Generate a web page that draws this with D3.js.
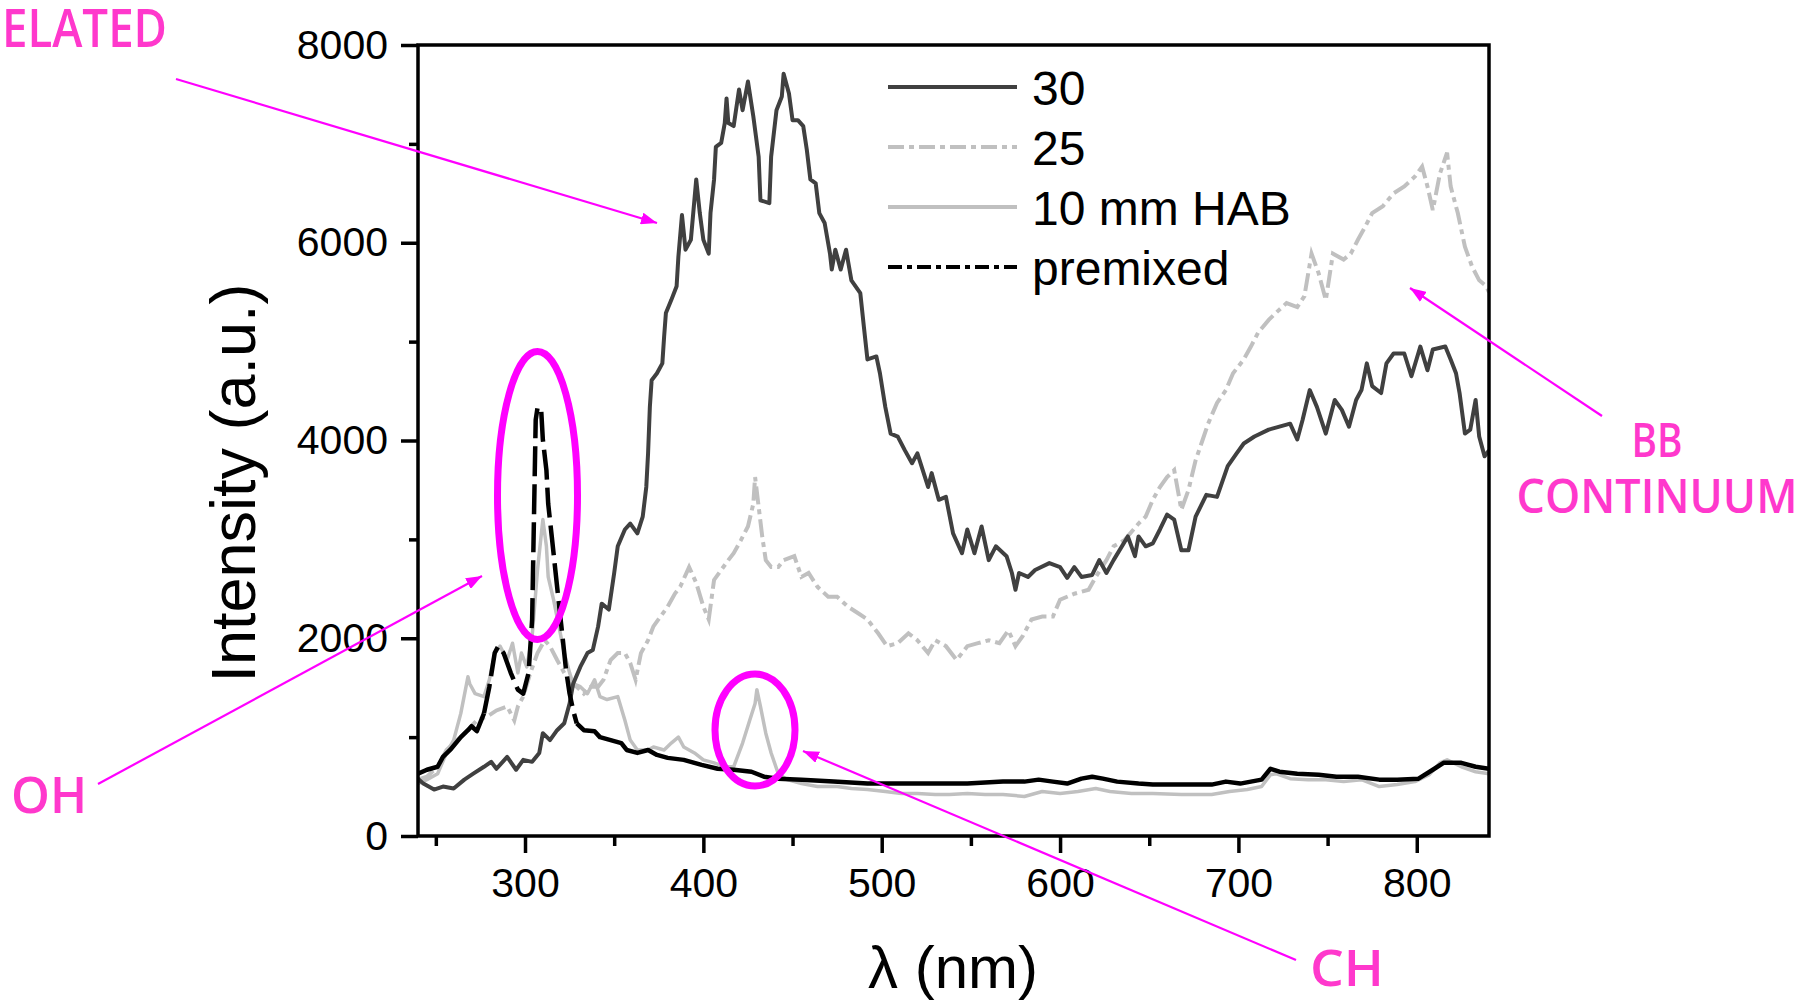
<!DOCTYPE html>
<html>
<head>
<meta charset="utf-8">
<script src="https://cdn.jsdelivr.net/npm/d3@7"></script>
<style>
  html, body { margin: 0; padding: 0; background: #ffffff; }
  svg { display: block; }
</style>
</head>
<body>
<svg id="chart" width="1803" height="1001"></svg>
<script>
// ---------------- DATA ----------------
const seriesNames = ["30", "25", "10 mm HAB", "premixed"];

const wl30 = [240,243,249,254,260,266,271,277,281,284,290,295,299,304,308,310,314,318,322,325,327,331,335,338,341,343,347,350,352,356,359,363,366,368,369,370,371,374,377,378,379,382,385,386,388,390,393,396,398,400,403,404,406,407,410,412,413,414,417,420,422,425,428,431,432,437,438,441,444,445,448,450,453,456,458,460,463,465,468,471,472,474,477,480,483,488,490,492,497,499,502,505,509,513,517,520,526,528,532,536,540,545,548,552,556,560,564,570,573,575,577,582,586,594,600,604,608,612,618,622,626,630,638,642,644,648,652,656,660,664,668,672,676,682,688,694,699,703,709,717,723,729,733,736,740,744,749,754,758,762,766,769,772,775,780,783,787,793,797,802,806,809,816,819,822,824,827,830,833,835,838,840.5];
const int30 = [580,530,470,500,480,570,630,700,750,680,800,670,770,750,840,1040,970,1070,1140,1340,1540,1710,1850,1880,2120,2350,2290,2660,2930,3100,3160,3060,3230,3530,3870,4340,4610,4680,4780,5050,5290,5420,5560,5860,6280,5930,6030,6640,6300,6030,5890,6300,6640,6970,7010,7210,7460,7210,7180,7550,7340,7630,7280,6870,6430,6400,6870,7340,7480,7710,7510,7240,7240,7180,6940,6640,6600,6300,6200,5890,5730,5930,5730,5930,5620,5490,5150,4820,4850,4680,4340,4070,4040,3900,3770,3870,3530,3670,3400,3430,3060,2860,3100,2860,3130,2790,2930,2830,2660,2490,2660,2620,2690,2760,2720,2610,2720,2620,2640,2790,2660,2790,3030,2830,3030,2930,2960,3100,3250,3200,2890,2890,3230,3450,3430,3740,3870,3970,4040,4110,4140,4170,4010,4210,4510,4340,4070,4410,4310,4140,4410,4510,4780,4550,4480,4780,4880,4880,4650,4950,4710,4920,4950,4820,4680,4480,4070,4110,4410,4040,3840,3900];

const wl25 = [240,245,251,256,262,268,273,279,284,290,294,296,299,303,307,311,314,318,322,326,329,333,337,341,344,348,352,356,359,362,365,369,372,376,380,384,387,392,396,400,403,406,410,414,417,421,425,428,429,431,433,435,438,442,445,451,455,459,464,470,475,481,487,492,498,503,509,515,520,526,530,536,542,548,554,560,566,571,575,579,584,590,596,600,608,616,620,626,630,636,644,648,652,656,660,664,668,672,676,680,683,688,693,697,703,707,711,717,721,727,733,737,741,745,749,753,759,763,767,771,775,781,787,793,799,803,806,809,813,817,819,823,827,831,835,839,840.5];
const int25 = [570,600,700,870,970,1070,1170,1210,1270,1310,1170,1310,1410,1650,1850,1980,1920,1780,1650,1540,1510,1440,1510,1510,1580,1780,1850,1850,1750,1580,1850,1980,2120,2220,2320,2450,2520,2720,2560,2320,2190,2590,2690,2790,2860,2990,3130,3360,3630,3330,3030,2790,2720,2720,2790,2830,2620,2660,2520,2420,2420,2320,2250,2190,2050,1920,1950,2050,1980,1850,1980,1920,1780,1920,1950,1980,1950,2080,1920,2020,2190,2220,2220,2390,2450,2490,2620,2790,2930,2990,3160,3230,3400,3530,3630,3700,3300,3500,3800,4010,4170,4380,4510,4680,4820,4950,5090,5220,5290,5390,5350,5460,5890,5690,5420,5890,5830,5890,6030,6160,6300,6370,6500,6570,6670,6770,6570,6330,6700,6910,6570,6300,5960,5760,5620,5560,5500];

const wl10 = [240,245,251,256,260,264,268,269,272,277,280,283,286,290,293,296,298,301,304,307,310,312,313,316,319,322,325,327,331,335,339,342,346,352,356,359,363,369,372,378,382,386,389,395,400,406,412,417,422,426,429,430,432,435,438,442,447,455,464,475,483,492,502,511,520,530,538,548,558,568,580,590,600,610,620,628,640,652,668,685,695,705,713,718,721,729,739,749,759,769,779,789,799,807,813,817,825,833,840.5];
const int10 = [530,570,630,840,970,1240,1610,1540,1440,1410,1580,1850,1920,1780,1950,1650,1850,1710,2020,2690,3200,2930,2620,2390,2120,1850,1650,1540,1510,1440,1580,1410,1380,1410,1170,970,870,870,900,870,940,1000,900,840,770,740,700,700,940,1170,1340,1480,1310,1040,840,630,570,530,500,500,480,470,450,430,430,420,420,430,420,420,400,450,430,450,480,450,430,430,420,420,450,470,500,620,630,580,570,570,550,570,500,520,550,620,740,770,700,650,630];

const wlPre = [240,245,251,254,258,264,268,270,273,277,280,283,285,288,292,296,299,302,304,305,306,307,309,310,312,313,315,317,319,321,323,325,327,329,333,339,342,348,354,357,363,369,374,380,389,399,408,417,427,434,442,455,473,492,511,531,548,568,580,588,596,604,612,618,624,632,644,652,668,685,693,701,713,718,723,733,745,755,767,779,789,801,809,815,825,833,840.5];
const intPre = [630,670,700,800,870,1000,1070,1110,1060,1240,1510,1850,1920,1850,1650,1480,1440,1650,2190,3200,4210,4330,4330,4010,3700,3360,3030,2690,2350,2020,1680,1440,1270,1140,1070,1060,1000,970,940,870,840,870,820,790,770,720,680,670,650,600,580,570,550,530,530,530,530,550,550,570,550,530,580,600,580,550,530,520,520,520,550,530,570,680,650,630,620,600,600,570,570,580,670,740,740,700,680];

const xTickMajor = [300, 400, 500, 600, 700, 800];
const xTickMinor = [250, 350, 450, 550, 650, 750];
const yTickMajor = [0, 2000, 4000, 6000, 8000];
const yTickMinor = [1000, 3000, 5000, 7000];

const xLabel = "λ (nm)";
const yLabel = "Intensity (a.u.)";
const annoTexts = ["ELATED", "OH", "CH", "BB", "CONTINUUM"];

// ---------------- DRAWING ----------------
const svg = d3.select("#chart");
const L = 418, R = 1489, T = 45, B = 836;
const x = d3.scaleLinear().domain([240, 840.5]).range([L, R]);
const y = d3.scaleLinear().domain([0, 8000]).range([B, T]);

const FONT = "'Liberation Sans', Arial, Helvetica, sans-serif";
const MAG = "#ff00ff";
const MAGTXT = "#ff38cc";

const defs = svg.append("defs");
defs.append("clipPath").attr("id", "plotclip")
  .append("rect").attr("x", L).attr("y", T).attr("width", R - L).attr("height", B - T);

const line = d3.line().x(d => x(d[0])).y(d => y(d[1]));
const plot = svg.append("g").attr("clip-path", "url(#plotclip)");

const d10 = d3.zip(wl10, int10);
const d25 = d3.zip(wl25, int25);
const d30 = d3.zip(wl30, int30);
const dPre = d3.zip(wlPre, intPre);

plot.append("path").datum(d10).attr("d", line)
  .attr("fill", "none").attr("stroke", "#c0c0c0").attr("stroke-width", 3.5).attr("stroke-linejoin", "round");
plot.append("path").datum(d25).attr("d", line)
  .attr("fill", "none").attr("stroke", "#c0c0c0").attr("stroke-width", 4)
  .attr("stroke-dasharray", "18,5,5,5");
plot.append("path").datum(d30).attr("d", line)
  .attr("fill", "none").attr("stroke", "#404040").attr("stroke-width", 4).attr("stroke-linejoin", "round");

// premixed: dash pattern visible on the steep OH-band part, looks solid elsewhere
const i0 = dPre.findIndex(d => d[0] >= 275);
let i1 = 0; dPre.forEach((d, i) => { if (d[0] <= 330) i1 = i; });
const preStyle = (p) => p.attr("fill", "none").attr("stroke", "#000").attr("stroke-width", 4.5).attr("stroke-linejoin", "round");
plot.append("path").datum(dPre.slice(0, i0 + 1)).attr("d", line).call(preStyle);
plot.append("path").datum(dPre.slice(i0, i1 + 1)).attr("d", line).call(preStyle).attr("stroke-dasharray", "30,8");
plot.append("path").datum(dPre.slice(i1)).attr("d", line).call(preStyle);

// frame
svg.append("rect").attr("x", L).attr("y", T).attr("width", R - L).attr("height", B - T)
  .attr("fill", "none").attr("stroke", "#000").attr("stroke-width", 3.5);

// axes
function styleAxis(g) {
  g.select(".domain").remove();
  g.selectAll(".tick line").attr("stroke", "#000").attr("stroke-width", 3.5);
  g.selectAll("text").attr("font-family", FONT).attr("font-size", 41).attr("fill", "#000");
}
const xMaj = svg.append("g").attr("transform", `translate(0,${B})`)
  .call(d3.axisBottom(x).tickValues(xTickMajor).tickSize(17).tickPadding(15).tickFormat(d3.format("d")));
styleAxis(xMaj);
const xMin = svg.append("g").attr("transform", `translate(0,${B})`)
  .call(d3.axisBottom(x).tickValues(xTickMinor).tickSize(10).tickFormat(""));
styleAxis(xMin);
const yMaj = svg.append("g").attr("transform", `translate(${L},0)`)
  .call(d3.axisLeft(y).tickValues(yTickMajor).tickSize(17).tickPadding(13).tickFormat(d3.format("d")));
styleAxis(yMaj);
const yMin = svg.append("g").attr("transform", `translate(${L},0)`)
  .call(d3.axisLeft(y).tickValues(yTickMinor).tickSize(9).tickFormat(""));
styleAxis(yMin);

// axis titles
svg.append("text").attr("x", 953).attr("y", 988).attr("text-anchor", "middle")
  .attr("font-family", FONT).attr("font-size", 60).text(xLabel);
svg.append("text").attr("transform", "translate(255,483) rotate(-90)").attr("text-anchor", "middle")
  .attr("font-family", FONT).attr("font-size", 63).text(yLabel);

// legend
const legend = [
  { name: seriesNames[0], color: "#404040", dash: null, w: 4 },
  { name: seriesNames[1], color: "#c0c0c0", dash: "16,5,5,5", w: 4 },
  { name: seriesNames[2], color: "#c0c0c0", dash: null, w: 4 },
  { name: seriesNames[3], color: "#000000", dash: "14,5,5,5", w: 4 }
];
const lg = svg.append("g");
legend.forEach((s, i) => {
  const base = 105 + i * 60;
  const ly = base - 18;
  const ln = lg.append("line").attr("x1", 888).attr("x2", 1017).attr("y1", ly).attr("y2", ly)
    .attr("stroke", s.color).attr("stroke-width", s.w);
  if (s.dash) ln.attr("stroke-dasharray", s.dash);
  lg.append("text").attr("x", 1032).attr("y", base).attr("font-family", FONT).attr("font-size", 48).text(s.name);
});

// annotations
defs.append("marker").attr("id", "arrowhead").attr("viewBox", "0 0 16 12")
  .attr("refX", 16).attr("refY", 6).attr("markerWidth", 16).attr("markerHeight", 12)
  .attr("markerUnits", "userSpaceOnUse").attr("orient", "auto")
  .append("path").attr("d", "M0,0 L16,6 L0,12 Z").attr("fill", MAG);

const arrows = [
  [176, 79, 657, 223],
  [98, 784, 482, 576],
  [1296, 960, 803, 751],
  [1602, 416, 1410, 288]
];
const ag = svg.append("g");
arrows.forEach(a => {
  ag.append("line").attr("x1", a[0]).attr("y1", a[1]).attr("x2", a[2]).attr("y2", a[3])
    .attr("stroke", MAG).attr("stroke-width", 2.2).attr("marker-end", "url(#arrowhead)");
});

ag.append("ellipse").attr("cx", 537.5).attr("cy", 495.5).attr("rx", 40).attr("ry", 144)
  .attr("fill", "none").attr("stroke", MAG).attr("stroke-width", 7);
ag.append("ellipse").attr("cx", 755).attr("cy", 730).attr("rx", 40).attr("ry", 56)
  .attr("fill", "none").attr("stroke", MAG).attr("stroke-width", 7);

const AFONT = "'Open Sans', 'Noto Sans', sans-serif";
const annos = [
  { t: annoTexts[0], x: 2, y: 47, fs: 52, w: 165 },
  { t: annoTexts[1], x: 11, y: 813, fs: 50, w: 76 },
  { t: annoTexts[2], x: 1310, y: 986, fs: 50, w: 74 }
];
annos.forEach(a => {
  ag.append("text").attr("x", a.x).attr("y", a.y).attr("font-family", AFONT).attr("font-size", a.fs)
    .attr("font-weight", 600).attr("fill", MAGTXT)
    .attr("textLength", a.w).attr("lengthAdjust", "spacingAndGlyphs").text(a.t);
});
// two-line label "BB / CONTINUUM" as one text block
const bb = ag.append("text").attr("font-family", AFONT).attr("font-size", 47).attr("font-weight", 600)
  .attr("fill", MAGTXT).attr("text-anchor", "middle");
bb.append("tspan").attr("x", 1657).attr("y", 457).attr("textLength", 51)
  .attr("lengthAdjust", "spacingAndGlyphs").text(annoTexts[3]);
bb.append("tspan").attr("x", 1657).attr("y", 513).attr("textLength", 281)
  .attr("lengthAdjust", "spacingAndGlyphs").text(annoTexts[4]);
</script>
</body>
</html>
